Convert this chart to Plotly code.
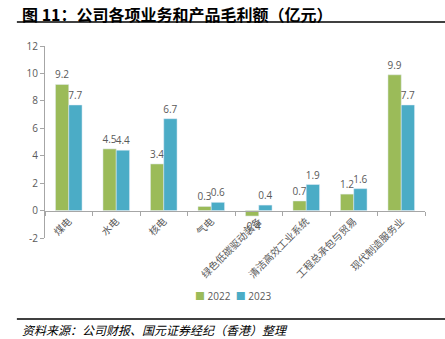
import plotly.graph_objects as go

categories = ["煤电", "水电", "核电", "气电", "绿色低碳驱动装备", "清洁高效工业系统", "工程总承包与贸易", "现代制造服务业"]
v2022 = [9.2, 4.5, 3.4, 0.3, -0.4, 0.7, 1.2, 9.9]
v2023 = [7.7, 4.4, 6.7, 0.6, 0.4, 1.9, 1.6, 7.7]
ytick_vals = [-2, 0, 2, 4, 6, 8, 10, 12]
series_names = ["2022", "2023"]
series_colors = ["#9BBB59", "#4BACC6"]

GRAY = "#595959"
FONT = "Open Sans, Noto Sans CJK SC, sans-serif"

fig = go.Figure()
for name, vals, col in zip(series_names, [v2022, v2023], series_colors):
    fig.add_trace(go.Bar(name=name, x=categories, y=vals, marker_color=col,
                         text=[f"{v:.1f}" for v in vals], textposition="outside",
                         textfont=dict(size=10, color=GRAY, family=FONT),
                         cliponaxis=False, constraintext="none"))

fig.update_layout(
    width=445, height=339,
    margin=dict(l=45, r=20, t=46, b=101),
    paper_bgcolor="white", plot_bgcolor="white",
    barmode="group", bargap=0.44, bargroupgap=0,
    font=dict(family=FONT, size=10, color=GRAY),
    showlegend=False,
    xaxis=dict(anchor="free", position=1/7, showline=True, linecolor="#A6A6A6", linewidth=1,
               ticks="outside", tickson="boundaries", ticklen=4, tickcolor="#A6A6A6",
               tickangle=-45, tickfont=dict(size=10, color=GRAY, family="Noto Sans CJK SC"),
               showgrid=False, zeroline=False),
    yaxis=dict(range=[-2, 12], tickvals=ytick_vals, ticktext=[str(v) for v in ytick_vals],
               showline=True, linecolor="#A6A6A6",
               linewidth=1, ticks="outside", ticklen=4, tickcolor="#A6A6A6",
               showgrid=False, zeroline=False, tickfont=dict(size=10, color=GRAY)),
)

# legend (compact, as in reference)
legend_text = "&nbsp;&nbsp;".join(
    f"<span style='color:{c}'>■</span> {n}" for n, c in zip(series_names, series_colors))
fig.add_annotation(text=legend_text, xref="paper", yref="paper",
                   x=0.495, y=-0.302, xanchor="center", yanchor="middle", showarrow=False,
                   font=dict(size=10, color=GRAY, family=FONT))

fig.add_annotation(text="<b>图 11：公司各项业务和产品毛利额（亿元）</b>", xref="paper", yref="paper",
                   x=-0.066, y=1.168, xanchor="left", yanchor="middle", showarrow=False,
                   font=dict(size=16, color="black", family="Noto Sans CJK SC"))
fig.add_annotation(text="<i>资料来源：公司财报、国元证券经纪（香港）整理</i>", xref="paper", yref="paper",
                   x=-0.066, y=-0.475, xanchor="left", yanchor="middle", showarrow=False,
                   font=dict(size=12, color="black", family="Noto Sans CJK SC"))
fig.add_shape(type="line", xref="paper", yref="paper", x0=-0.074, x1=1.06, y0=1.125, y1=1.125,
              line=dict(color="black", width=1.5))
fig.add_shape(type="line", xref="paper", yref="paper", x0=-0.074, x1=1.06, y0=-0.422, y1=-0.422,
              line=dict(color="black", width=1.5))

fig.write_html("out.html")
